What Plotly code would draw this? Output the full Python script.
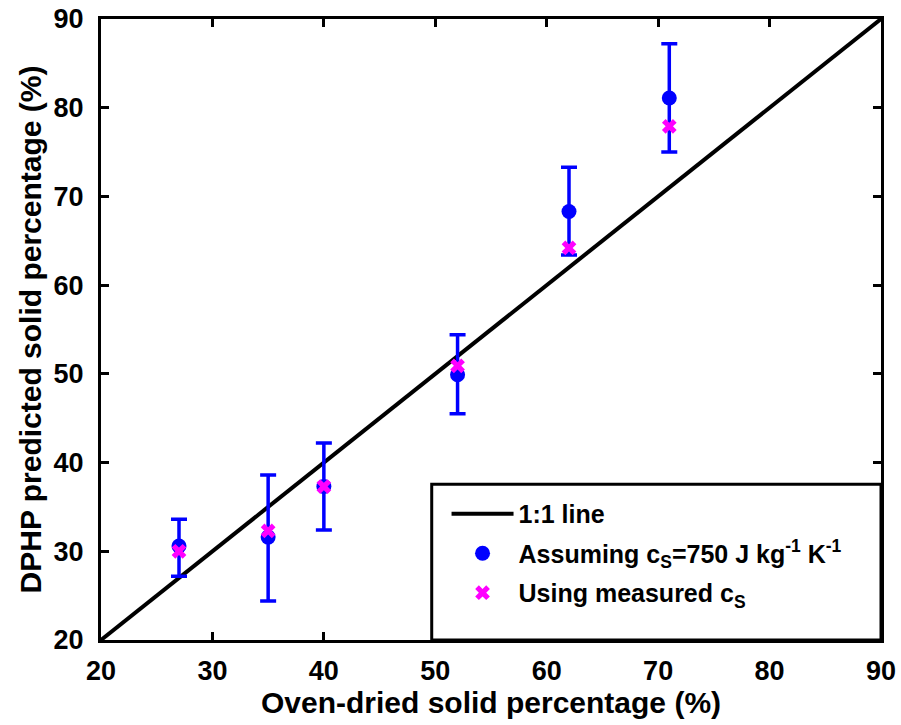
import plotly.graph_objects as go

# Data
oven_dried = [27, 35, 40, 52, 62, 71]
assumed_cs = [30.6, 31.6, 37.3, 49.9, 68.3, 81.1]
assumed_upper = [33.6, 38.6, 42.2, 54.4, 73.3, 87.2]
assumed_lower = [27.2, 24.4, 32.4, 45.5, 63.4, 75.0]
measured_cs = [30.0, 32.3, 37.3, 50.9, 64.2, 77.9]
line_1to1 = [20, 90]
tick_vals = [20, 30, 40, 50, 60, 70, 80, 90]
tick_text = ["<b>%d</b>" % v for v in tick_vals]

err_plus = [u - v for u, v in zip(assumed_upper, assumed_cs)]
err_minus = [v - l for v, l in zip(assumed_cs, assumed_lower)]

FONT = "Arial"

fig = go.Figure()
fig.add_trace(go.Scatter(
    x=line_1to1, y=line_1to1, mode="lines", name="<b>1:1 line</b>",
    line=dict(color="black", width=4), legendgroup="a"))
fig.add_trace(go.Scatter(
    x=oven_dried, y=assumed_cs, mode="markers",
    name="<b>Assuming c<sub>S</sub>=750 J kg<sup>-1</sup> K<sup>-1</sup></b>",
    marker=dict(symbol="circle", size=15, color="#0000FF"),
    error_y=dict(type="data", symmetric=False, array=err_plus, arrayminus=err_minus,
                 color="#0000FF", thickness=3.5, width=8),
    legendgroup="b", cliponaxis=False))
fig.add_trace(go.Scatter(
    x=oven_dried, y=measured_cs, mode="markers",
    name="<b>Using measured c<sub>S</sub></b>",
    marker=dict(symbol="x", size=13, color="#FF00FF", line=dict(width=0)),
    legendgroup="c", cliponaxis=False))

axis_common = dict(
    range=[20, 90], tickvals=tick_vals, ticktext=tick_text, showgrid=False, zeroline=False,
    showline=True, linecolor="black", linewidth=3, mirror="allticks",
    ticks="inside", ticklen=8, tickwidth=3, tickcolor="black", automargin=False,
    tickfont=dict(size=27, family=FONT, color="black"),
)

fig.update_layout(
    width=901, height=725,
    margin=dict(l=101, r=20, t=19, b=85),
    plot_bgcolor="white", paper_bgcolor="white",
    font=dict(family=FONT, color="black"),
    xaxis=dict(axis_common, ticklabelstandoff=5,
               title=dict(text="<b>Oven-dried solid percentage (%)</b>",
                          font=dict(size=30, family=FONT, color="black"), standoff=4)),
    yaxis=dict(axis_common, ticklabelstandoff=9,
               title=dict(text="<b>DPHP predicted solid percentage (%)</b>",
                          font=dict(size=30, family=FONT, color="black"), standoff=4)),
    legend=dict(x=0.443, y=0.24, xanchor="left", yanchor="top",
                bgcolor="rgba(0,0,0,0)", borderwidth=0,
                font=dict(size=25, family=FONT, color="black"),
                tracegroupgap=4, itemwidth=62),
    shapes=[dict(type="rect", xref="paper", yref="paper",
                 x0=0.424, x1=1.0, y0=0.0, y1=0.251,
                 line=dict(color="black", width=3), fillcolor="white", layer="above")],
)

fig.write_html("out.html")
